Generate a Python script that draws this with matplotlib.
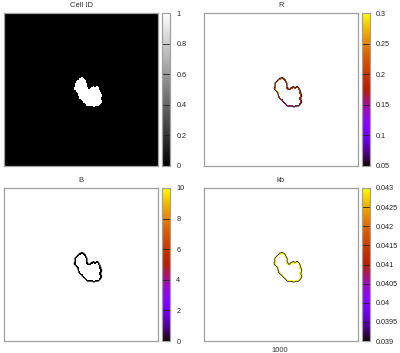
import numpy as np
import matplotlib
matplotlib.use("Agg")
import matplotlib.pyplot as plt
from matplotlib.path import Path
from matplotlib.colors import ListedColormap

# lattice size and cell outline (lattice units, y up)
L = 200
outline_x = [101, 105, 106, 108, 108, 110, 113, 116, 118, 121, 123, 125, 126, 127, 126, 127,
             125, 123, 119, 117, 113, 109, 106, 104, 100, 97, 96, 95, 92, 91, 92, 92, 95, 97]
outline_y = [116, 114, 112, 108, 104, 100, 103, 104, 103, 104, 103, 99, 96, 92, 88, 84,
             80, 78, 78, 77, 78, 78, 80, 82, 86, 90, 93, 96, 99, 101, 105, 109, 112, 114]

# R along the membrane, by angle around the centre (degrees)
R_angles = [180, 135, 90, 45, 0, -45, -90, -120, -150]
R_values = [0.25, 0.22, 0.20, 0.20, 0.19, 0.17, 0.15, 0.16, 0.21]
B_value = 0.0
kb_value = 0.043

titles = ["Cell ID", "R", "B", "kb"]
clims = [(0, 1), (0.05, 0.3), (0, 10), (0.039, 0.043)]
cticks = [[0, 0.2, 0.4, 0.6, 0.8, 1],
          [0.05, 0.1, 0.15, 0.2, 0.25, 0.3],
          [0, 2, 4, 6, 8, 10],
          [0.039, 0.0395, 0.04, 0.0405, 0.041, 0.0415, 0.042, 0.0425, 0.043]]
cticklabels = [["0", "0.2", "0.4", "0.6", "0.8", "1"],
               ["0.05", "0.1", "0.15", "0.2", "0.25", "0.3"],
               ["0", "2", "4", "6", "8", "10"],
               ["0.039", "0.0395", "0.04", "0.0405", "0.041", "0.0415", "0.042", "0.0425", "0.043"]]
step_label = "1000"

# rasterise the cell
yy, xx = np.mgrid[0:L, 0:L]
pts = np.column_stack([xx.ravel() + 0.5, yy.ravel() + 0.5])
cell = Path(np.column_stack([outline_x, outline_y])).contains_points(pts).reshape(L, L)

# membrane = cell sites close to the medium
outside = ~cell
near = np.zeros_like(cell)
for dx in range(-2, 3):
    for dy in range(-2, 3):
        if abs(dx) + abs(dy) <= 2:
            near |= np.roll(np.roll(outside, dx, axis=1), dy, axis=0)
memb = cell & near

cy, cx = np.argwhere(cell).mean(axis=0)
ang = np.degrees(np.arctan2(yy - cy, xx - cx))
d = np.abs(((ang[..., None] - np.array(R_angles)) + 180) % 360 - 180)
R_field = np.array(R_values)[d.argmin(axis=-1)]

fields = [
    cell.astype(float),
    np.ma.masked_where(~memb, R_field),
    np.ma.masked_where(~memb, np.full((L, L), B_value)),
    np.ma.masked_where(~memb, np.full((L, L), kb_value)),
]

# gnuplot rgbformulae 7,5,15
s = np.linspace(0, 1, 256)
pm3d = ListedColormap(np.column_stack([np.sqrt(s), s ** 3, np.clip(np.sin(2 * np.pi * s), 0, 1)]))
pm3d.set_bad("white")
cmaps = ["gray", pm3d, pm3d, pm3d]

plt.rcParams['font.family'] = ['Liberation Sans', 'DejaVu Sans']
W, H = 400, 353
fig = plt.figure(figsize=(W / 100, H / 100), dpi=100)

boxes = [(4, 13), (204, 13), (4, 188), (204, 188)]
for i, (px, py) in enumerate(boxes):
    ax = fig.add_axes([px / W, 1 - (py + 153) / H, 154 / W, 153 / H])
    im = ax.imshow(fields[i], cmap=cmaps[i], vmin=clims[i][0], vmax=clims[i][1],
                   origin="lower", extent=[0, L, 0, L], interpolation="nearest", aspect="auto")
    if i > 0:
        ax.contour(xx + 0.5, yy + 0.5, cell.astype(float), levels=[0.5], colors="black", linewidths=0.5)
    ax.set_xticks([])
    ax.set_yticks([])
    for sp in ax.spines.values():
        sp.set_color("#a0a0a0")
        sp.set_linewidth(0.9)
    ax.set_title(titles[i], fontsize=5.5, pad=4, color="#333333")

    cax = fig.add_axes([(px + 158) / W, 1 - (py + 153) / H, 8 / W, 153 / H])
    cb = fig.colorbar(im, cax=cax)
    cb.set_ticks(cticks[i])
    cb.set_ticklabels(cticklabels[i])
    cb.outline.set_edgecolor("#a0a0a0")
    cb.outline.set_linewidth(0.9)
    cax.tick_params(axis="y", direction="in", length=5.8, width=0.6, color="#222222",
                    labelsize=5.2, pad=4.5, labelcolor="#222222")

fig.text(280 / W, 1 - 350 / H, step_label, fontsize=5.5, ha="center", va="center", color="#333333")

fig.savefig("out.png", dpi=100)
